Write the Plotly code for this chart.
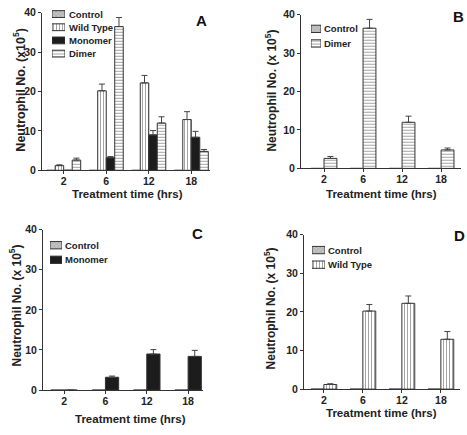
import plotly.graph_objects as go

W, H = 467, 435
times = ["2", "6", "12", "18"]
xpos = [0, 1, 2, 3]

control = [0, 0, 0, 0]
wild_type = [1.2, 20.2, 22.2, 12.9]
wild_type_err = [0.2, 1.7, 1.9, 2.0]
monomer = [0, 3.2, 9.0, 8.4]
monomer_err = [0, 0.3, 1.1, 1.5]
dimer = [2.6, 36.5, 12.0, 4.8]
dimer_err = [0.5, 2.3, 1.6, 0.5]

y_ticks = [0, 10, 20, 30, 40]

FONT = "Arial, Liberation Sans, sans-serif"
LINE = "#333333"

series = {
    "Control": dict(y=control, err=None,
                    pattern=dict(shape="x", fgcolor="#7a7a7a", bgcolor="#c4c4c4", size=3, solidity=0.3),
                    color="#c4c4c4"),
    "Wild Type": dict(y=wild_type, err=wild_type_err,
                      pattern=dict(shape="|", fgcolor="#4a4a4a", bgcolor="white", size=3, solidity=0.35),
                      color="white"),
    "Monomer": dict(y=monomer, err=monomer_err, pattern=None, color="#1c1c1c"),
    "Dimer": dict(y=dimer, err=dimer_err,
                  pattern=dict(shape="-", fgcolor="#4a4a4a", bgcolor="white", size=3, solidity=0.35),
                  color="white"),
}

panels = [
    dict(letter="A", dx=(42, 210), dy=(7, 169), rng=[-0.51, 3.44], names=["Control", "Wild Type", "Monomer", "Dimer"],
         w=0.2, letter_pos=(201, 15), ytitle="Neutrophil No. (x10<sup>5</sup>)", ytitle_pos=(19, 86), ytitle_size=12.5,
         xtitle_pos=(127, 193),
         leg=dict(x0=52, x1=65, c0=8.3, s=13.55, h=7, tx=67)),
    dict(letter="B", dx=(301, 461), dy=(9, 167), rng=[-0.59, 3.51], names=["Control", "Dimer"],
         w=0.33, letter_pos=(458, 11), ytitle="Neutrophil No. (x 10<sup>5</sup>)", ytitle_pos=(271, 87), ytitle_size=12,
         xtitle_pos=(381, 193),
         leg=dict(x0=311, x1=321, c0=23.5, s=15, h=7.5, tx=322)),
    dict(letter="C", dx=(43, 203), dy=(230, 395), rng=[-0.51, 3.36], names=["Control", "Monomer"],
         w=0.32, letter_pos=(197, 234), ytitle="Neutrophil No. (x 10<sup>5</sup>)", ytitle_pos=(15, 308), ytitle_size=12,
         xtitle_pos=(130, 425),
         leg=dict(x0=50, x1=62, c0=246, s=15, h=7.5, tx=63)),
    dict(letter="D", dx=(304, 460), dy=(235, 394), rng=[-0.51, 3.49], names=["Control", "Wild Type"],
         w=0.33, letter_pos=(459, 236), ytitle="Neutrophil No. (x 10<sup>5</sup>)", ytitle_pos=(270, 311), ytitle_size=12,
         xtitle_pos=(381, 419),
         leg=dict(x0=312, x1=325, c0=251, s=15, h=7.5, tx=326)),
]


def pxx(x):
    return x / W


def pyy(y):
    return 1 - y / H


fig = go.Figure()
layout = dict(width=W, height=H, margin=dict(l=0, r=0, t=0, b=0),
              paper_bgcolor="white", plot_bgcolor="white", showlegend=False,
              barmode="overlay", font=dict(family=FONT, color="#222222"))
annotations = []

for i, p in enumerate(panels):
    k = i + 1
    xa, ya = f"x{k}", f"y{k}"
    n = len(p["names"])
    for j, name in enumerate(p["names"]):
        s = series[name]
        marker = dict(color=s["color"], line=dict(color=LINE, width=1))
        if s["pattern"]:
            marker["pattern"] = s["pattern"]
        tr = dict(x=xpos, y=s["y"], width=p["w"], offset=-n * p["w"] / 2 + j * p["w"],
                  marker=marker, xaxis=xa, yaxis=ya, name=name)
        if s["err"] is not None:
            tr["error_y"] = dict(type="data", array=s["err"], arrayminus=[0] * 4, symmetric=False,
                                 color="#444444", thickness=1, width=3)
        fig.add_trace(go.Bar(**tr))
    xname = "xaxis" if k == 1 else f"xaxis{k}"
    yname = "yaxis" if k == 1 else f"yaxis{k}"
    layout[xname] = dict(domain=[pxx(p["dx"][0]), pxx(p["dx"][1])], range=p["rng"], anchor=ya,
                         tickvals=xpos, ticktext=times, ticks="outside", ticklen=3, tickcolor=LINE,
                         showline=True, linecolor=LINE, linewidth=1, showgrid=False, zeroline=False,
                         ticklabelstandoff=-2,
                         tickfont=dict(size=10.5, weight="bold", color="#222222"))
    layout[yname] = dict(domain=[pyy(p["dy"][1]), pyy(p["dy"][0])], range=[0, 40], anchor=xa,
                         tickvals=y_ticks, ticks="outside", ticklen=3, tickcolor=LINE,
                         showline=True, linecolor=LINE, linewidth=1, showgrid=False, zeroline=False,
                         tickfont=dict(size=10.5, weight="bold", color="#222222"))
    annotations.append(dict(text=p["ytitle"], textangle=-90, x=pxx(p["ytitle_pos"][0]), y=pyy(p["ytitle_pos"][1]),
                            xref="paper", yref="paper", showarrow=False, xanchor="center", yanchor="middle",
                            font=dict(size=p["ytitle_size"], weight="bold", color="#222222")))
    annotations.append(dict(text="Treatment time (hrs)", x=pxx(p["xtitle_pos"][0]), y=pyy(p["xtitle_pos"][1]),
                            xref="paper", yref="paper", showarrow=False, xanchor="center", yanchor="middle",
                            font=dict(size=11.5, weight="bold", color="#222222")))
    annotations.append(dict(text=p["letter"], x=pxx(p["letter_pos"][0]), y=pyy(p["letter_pos"][1]),
                            xref="paper", yref="paper", showarrow=False, xanchor="center", yanchor="middle",
                            font=dict(size=15, weight="bold", color="#111111")))

    # custom legend swatches
    lg = p["leg"]
    lk = k + 4
    lxa, lya = f"x{lk}", f"y{lk}"
    for j, name in enumerate(p["names"]):
        s = series[name]
        marker = dict(color=s["color"], line=dict(color=LINE, width=1))
        if s["pattern"]:
            marker["pattern"] = s["pattern"]
        fig.add_trace(go.Bar(x=[1], y=[j], orientation="h", width=lg["h"] / lg["s"], marker=marker,
                             xaxis=lxa, yaxis=lya, hoverinfo="skip"))
        annotations.append(dict(text=name, x=pxx(lg["tx"]), y=pyy(lg["c0"] + j * lg["s"]),
                                xref="paper", yref="paper", showarrow=False, xanchor="left", yanchor="middle",
                                font=dict(size=9.5, weight="bold", color="#222222")))
    top = lg["c0"] - lg["s"] / 2
    bot = lg["c0"] + (n - 0.5) * lg["s"]
    layout[f"xaxis{lk}"] = dict(domain=[pxx(lg["x0"]), pxx(lg["x1"])], range=[0, 1], anchor=lya, visible=False)
    layout[f"yaxis{lk}"] = dict(domain=[pyy(bot), pyy(top)], range=[n - 0.5, -0.5], anchor=lxa, visible=False)

layout["annotations"] = annotations
fig.update_layout(**layout)
fig.write_html("out.html", config={"displayModeBar": False},
               post_script="document.body.style.margin='0';document.body.style.overflow='hidden';")
